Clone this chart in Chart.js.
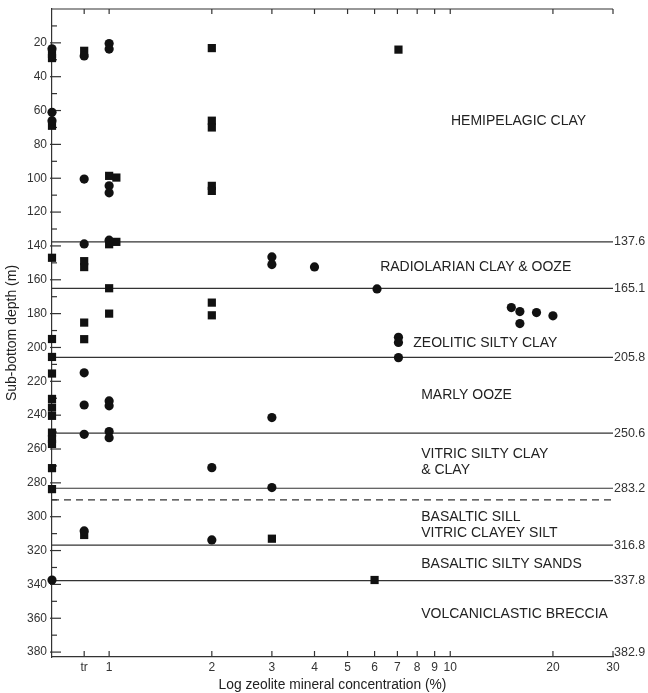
<!DOCTYPE html>
<html>
<head>
<meta charset="utf-8">
<script src="https://cdn.jsdelivr.net/npm/chart.js@4/dist/chart.umd.min.js"></script>
<style>
  html, body { margin: 0; padding: 0; background: #fff; }
  #wrap { width: 648px; height: 693px; }
</style>
</head>
<body>
<div id="wrap"><canvas id="c" width="648" height="693"></canvas></div>
<script>
// ---- data ----
// circles (concentration %, depth m); values at 0.68 sit on the axis (not detected)
const circleConc  = [0.68, 0.68, 0.68, 0.68,
                     0.845, 0.845, 0.845, 0.845, 0.845, 0.845, 0.845,
                     1, 1, 1, 1, 1, 1, 1, 1, 1,
                     2, 2,
                     3, 3, 3, 3,
                     4, 6.1, 7.05, 7.05, 7.05,
                     15.1, 16, 16, 17.9, 20];
const circleDepth = [23.5, 61, 66, 337.4,
                     27.7, 100.5, 138.8, 215, 234, 251.3, 308.4,
                     20.4, 23.7, 104.5, 108.6, 136.6, 231.6, 234.5, 249.7, 253.3,
                     271, 313.7,
                     146.5, 151, 241.4, 282.8,
                     152.4, 165.4, 194, 197, 206,
                     176.4, 178.8, 185.9, 179.4, 181.3];
// squares
const squareConc  = [0.68, 0.68, 0.68, 0.68, 0.68, 0.68, 0.68, 0.68, 0.68, 0.68, 0.68, 0.68, 0.68, 0.68, 0.68,
                     0.845, 0.845, 0.845, 0.845, 0.845, 0.845,
                     1, 1, 1, 1, 1.05, 1.05,
                     2, 2, 2, 2, 2, 2, 2,
                     3, 6, 7.05];
const squareDepth = [26.5, 29, 69, 147, 195, 205.6, 215.4, 230.4, 235.5, 240.4, 250.3, 254.2, 257, 271.3, 283.7,
                     24.7, 149, 152.5, 185.3, 195.1, 310.8,
                     98.6, 139, 165, 180, 99.6, 137.6,
                     23.1, 66, 70, 104.5, 107.5, 173.5, 181,
                     313, 337.4, 24];

const xTickValues = [0.845, 1, 2, 3, 4, 5, 6, 7, 8, 9, 10, 20, 30];
const xTickLabels = ['tr', '1', '2', '3', '4', '5', '6', '7', '8', '9', '10', '20', '30'];
const yTickValues = [20, 40, 60, 80, 100, 120, 140, 160, 180, 200, 220, 240, 260, 280, 300, 320, 340, 360, 380];

const boundaries = [137.6, 165.1, 205.8, 250.6, 283.2, 316.8, 337.8];
const sillTop = 290;
const totalDepth = 382.9;

const unitNames = [
  ['HEMIPELAGIC CLAY'],
  ['RADIOLARIAN CLAY & OOZE'],
  ['ZEOLITIC SILTY CLAY'],
  ['MARLY OOZE'],
  ['VITRIC SILTY CLAY', '& CLAY'],
  ['BASALTIC SILL', 'VITRIC CLAYEY SILT'],
  ['BASALTIC SILTY SANDS'],
  ['VOLCANICLASTIC BRECCIA']
];
// label anchor (x as concentration value, y as depth of first line)
const unitLabelAt = [
  [10.05, 66.1],
  [6.23, 152.4],
  [7.79, 197.3],
  [8.22, 228],
  [8.22, 262.9],
  [8.22, 300.1],
  [8.22, 327.9],
  [8.22, 357.5]
];

// ---- chart ----
const FONT = '"Liberation Sans", Arial, Helvetica, sans-serif';
const INK = '#222';

function pts(xs, ys) { return xs.map((v, i) => ({ x: v, y: ys[i] })); }

const overlay = {
  id: 'overlay',
  beforeDatasetsDraw(chart) {
    const { ctx, chartArea: a, scales: { x, y } } = chart;
    const seg = (x1, y1, x2, y2) => { ctx.beginPath(); ctx.moveTo(x1, y1); ctx.lineTo(x2, y2); ctx.stroke(); };
    ctx.save();
    ctx.strokeStyle = '#333';
    ctx.lineWidth = 1.2;
    // top border
    seg(a.left, a.top, a.right, a.top);
    // y inner ticks
    for (let d = 10; d <= 380; d += 10) {
      const py = y.getPixelForValue(d);
      const major = d % 20 === 0;
      seg(a.left - (major ? 2 : 0), py, a.left + (major ? 9 : 5), py);
    }
    // x inner ticks top and bottom
    xTickValues.forEach(v => {
      const px = x.getPixelForValue(v);
      seg(px, a.bottom, px, a.bottom - 6);
      seg(px, a.top, px, a.top + 5);
    });
    // unit boundaries
    ctx.fillStyle = '#333';
    ctx.font = '12.5px ' + FONT;
    ctx.textAlign = 'left';
    ctx.textBaseline = 'middle';
    boundaries.forEach(d => {
      const py = y.getPixelForValue(d);
      seg(a.left, py, a.right, py);
      ctx.fillText(d.toFixed(1), a.right + 1, py);
    });
    ctx.fillText(totalDepth.toFixed(1), a.right + 1, y.getPixelForValue(totalDepth) - 4);
    // dashed sill top
    ctx.setLineDash([7, 5]);
    const ps = y.getPixelForValue(sillTop);
    seg(a.left, ps, a.right, ps);
    ctx.setLineDash([]);
    // unit names
    ctx.fillStyle = INK;
    ctx.font = '14px ' + FONT;
    unitNames.forEach((lines, i) => {
      const px = x.getPixelForValue(unitLabelAt[i][0]);
      const py = y.getPixelForValue(unitLabelAt[i][1]);
      lines.forEach((t, j) => ctx.fillText(t, px, py + j * 16));
    });
    ctx.restore();
  }
};

new Chart(document.getElementById('c'), {
  type: 'scatter',
  data: {
    datasets: [
      {
        label: 'circles',
        data: pts(circleConc, circleDepth),
        pointStyle: 'circle',
        pointRadius: 4.6,
        backgroundColor: '#111',
        borderWidth: 0,
        clip: false
      },
      {
        label: 'squares',
        data: pts(squareConc, squareDepth),
        pointStyle: 'rect',
        pointRadius: 5.8,
        backgroundColor: '#111',
        borderWidth: 0,
        clip: false
      }
    ]
  },
  options: {
    responsive: false,
    animation: false,
    devicePixelRatio: 1,
    layout: { padding: { top: 9, right: 35, left: 0, bottom: 0 } },
    plugins: { legend: { display: false }, tooltip: { enabled: false } },
    scales: {
      x: {
        type: 'logarithmic',
        min: 0.68,
        max: 30,
        afterBuildTicks: s => { s.ticks = xTickValues.map(v => ({ value: v })); },
        afterFit: s => { s.height = 36; s.paddingLeft = 0; s.paddingRight = 0; },
        ticks: {
          autoSkip: false,
          maxRotation: 0,
          padding: 3,
          color: '#333',
          font: { family: FONT, size: 12 },
          callback: (v, i) => xTickLabels[i]
        },
        grid: { display: false, drawTicks: false, tickLength: 0 },
        border: { display: true, color: '#333', width: 1.2 },
        title: {
          display: true,
          text: 'Log zeolite mineral concentration (%)',
          color: INK,
          font: { family: FONT, size: 13.8 },
          padding: { top: 0, bottom: 0 }
        }
      },
      y: {
        type: 'linear',
        reverse: true,
        min: 0,
        max: totalDepth,
        afterBuildTicks: s => { s.ticks = yTickValues.map(v => ({ value: v })); },
        afterFit: s => { s.width = 52; s.paddingTop = 0; s.paddingBottom = 0; },
        ticks: {
          autoSkip: false,
          padding: 5,
          color: '#333',
          font: { family: FONT, size: 12 }
        },
        grid: { display: false, drawTicks: false, tickLength: 0 },
        border: { display: true, color: '#333', width: 1.2 },
        title: {
          display: true,
          text: 'Sub-bottom depth (m)',
          color: INK,
          font: { family: FONT, size: 14 },
          padding: { top: 4, bottom: 0 }
        }
      }
    }
  },
  plugins: [overlay]
});
</script>
</body>
</html>
